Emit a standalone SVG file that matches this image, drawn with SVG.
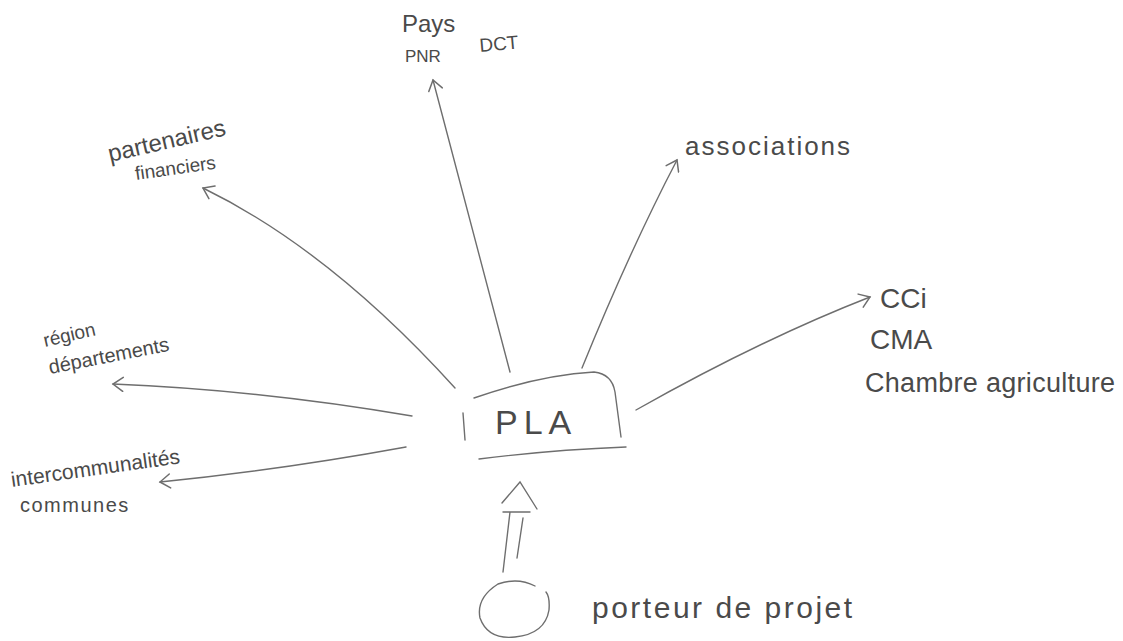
<svg xmlns="http://www.w3.org/2000/svg" width="1123" height="641" viewBox="0 0 1123 641">
<style>
.t{font-family:"Liberation Sans","DejaVu Sans",sans-serif;fill:#4a4a4a;}
.c{fill:none;stroke:#6e6e6e;stroke-width:1.4;stroke-linecap:round;}
</style>
<defs>
<marker id="ah" markerWidth="16" markerHeight="16" refX="12" refY="8" orient="auto" markerUnits="userSpaceOnUse">
<path d="M2,1 L12,8 L2,15" fill="none" stroke="#6e6e6e" stroke-width="1.5" stroke-linecap="round"/>
</marker>
</defs>
<rect width="1123" height="641" fill="#ffffff"/>
<g id="connectors">
<path class="c" d="M510,372 Q470,220 433,80" marker-end="url(#ah)"/>
<path class="c" d="M455,388 Q330,250 203,188" marker-end="url(#ah)"/>
<path class="c" d="M582,368 Q630,250 677,160" marker-end="url(#ah)"/>
<path class="c" d="M636,410 Q760,340 870,297" marker-end="url(#ah)"/>
<path class="c" d="M412,416 Q260,390 113,384" marker-end="url(#ah)"/>
<path class="c" d="M406,447 Q280,470 160,482" marker-end="url(#ah)"/>
<path class="c" d="M503,572 L510,512 M517,558 L523,518 M503,512 L530,512 M502,503 L520,482 L537,509"/>
</g>
<g id="pla">
<path class="c" d="M474,398 Q540,375 594,372 Q612,374 615,392 L621,437"/>
<path class="c" d="M463,413 L465,440"/>
<path class="c" d="M479,459 Q550,450 626,447"/>
<text class="t" x="495" y="434" font-size="34" letter-spacing="6">PLA</text>
</g>
<g id="porteur">
<path class="c" d="M535,586 Q518,577 498,584 Q476,598 480,618 Q488,640 515,637 Q545,634 549,610 Q550,597 546,592"/>
<text class="t" x="592" y="618" font-size="30" letter-spacing="2.5">porteur de projet</text>
</g>
<g id="pays">
<text class="t" x="402" y="32" font-size="24">Pays</text>
<text class="t" x="405" y="62" font-size="17">PNR</text>
<text class="t" x="480" y="52" font-size="19" transform="rotate(-5 480 52)">DCT</text>
</g>
<g id="partenaires">
<text class="t" x="110" y="162" font-size="24" transform="rotate(-13 110 162)">partenaires</text>
<text class="t" x="136" y="180" font-size="19" transform="rotate(-8 136 180)">financiers</text>
</g>
<g id="associations">
<text class="t" x="685" y="155" font-size="26" letter-spacing="2">associations</text>
</g>
<g id="chambres">
<text class="t" x="880" y="308" font-size="28">CCi</text>
<text class="t" x="870" y="349" font-size="28">CMA</text>
<text class="t" x="865" y="392" font-size="27" letter-spacing="0.3">Chambre agriculture</text>
</g>
<g id="region">
<text class="t" x="45" y="347" font-size="19" transform="rotate(-13 45 347)">région</text>
<text class="t" x="50" y="374" font-size="20" transform="rotate(-11 50 374)">départements</text>
</g>
<g id="intercommunalites">
<text class="t" x="12" y="487" font-size="21" transform="rotate(-8 12 487)">intercommunalités</text>
<text class="t" x="20" y="512" font-size="20" letter-spacing="1.5">communes</text>
</g>
</svg>
